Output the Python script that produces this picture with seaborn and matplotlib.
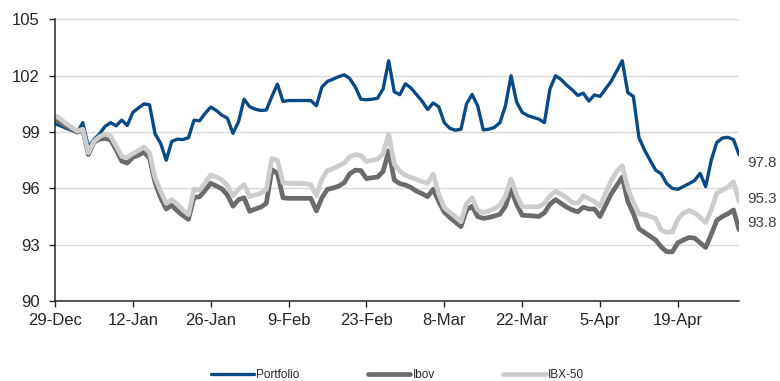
import pandas as pd
import numpy as np
import matplotlib
matplotlib.use("Agg")
import matplotlib.pyplot as plt
import matplotlib.dates as mdates
import seaborn as sns

# ---------------- data ----------------
dates = pd.date_range("2015-12-29", "2016-04-30", freq="D")

portfolio = [
    99.45, 99.33, 99.20, 99.09, 98.97, 99.50, 98.20, 98.60, 98.90, 99.30,
    99.50, 99.33, 99.64, 99.35, 100.05, 100.28, 100.50, 100.45, 98.90, 98.40,
    97.50, 98.50, 98.62, 98.60, 98.70, 99.63, 99.60, 100.00, 100.33, 100.15,
    99.90, 99.74, 98.93, 99.55, 100.75, 100.35, 100.22, 100.15, 100.17, 100.90,
    101.55, 100.63, 100.68, 100.68, 100.68, 100.68, 100.68, 100.40, 101.40, 101.70,
    101.82, 101.95, 102.05, 101.85, 101.40, 100.75, 100.72, 100.75, 100.80, 101.30,
    102.80, 101.15, 100.99, 101.57, 101.35, 101.00, 100.65, 100.20, 100.55, 100.35,
    99.50, 99.20, 99.10, 99.15, 100.50, 101.00, 100.40, 99.12, 99.15, 99.25,
    99.50, 100.40, 102.00, 100.60, 100.05, 99.88, 99.78, 99.69, 99.50, 101.30,
    102.00, 101.80, 101.50, 101.25, 100.95, 101.07, 100.65, 100.98, 100.90, 101.30,
    101.70, 102.25, 102.80, 101.10, 100.90, 98.70, 98.05, 97.50, 96.97, 96.78,
    96.25, 96.00, 95.95, 96.10, 96.25, 96.42, 96.80, 96.09, 97.50, 98.45,
    98.68, 98.72, 98.60, 97.80,
]

ibov = [
    99.70, 99.50, 99.33, 99.15, 99.00, 99.10, 97.80, 98.45, 98.63, 98.66,
    98.58, 98.05, 97.45, 97.35, 97.65, 97.77, 97.92, 97.60, 96.30, 95.50,
    94.90, 95.10, 94.80, 94.55, 94.35, 95.52, 95.55, 95.90, 96.27, 96.13,
    95.98, 95.65, 95.05, 95.40, 95.50, 94.78, 94.90, 95.00, 95.20, 97.00,
    96.80, 95.50, 95.47, 95.47, 95.47, 95.47, 95.47, 94.80, 95.50, 95.95,
    96.02, 96.12, 96.30, 96.78, 96.97, 96.95, 96.52, 96.57, 96.60, 96.90,
    98.00, 96.45, 96.25, 96.18, 96.05, 95.85, 95.72, 95.56, 95.95, 95.30,
    94.73, 94.45, 94.20, 93.96, 94.85, 95.05, 94.50, 94.40, 94.45, 94.53,
    94.62, 95.05, 95.95, 95.15, 94.57, 94.55, 94.53, 94.50, 94.70, 95.15,
    95.40, 95.20, 95.00, 94.85, 94.75, 95.00, 94.90, 94.90, 94.50, 95.10,
    95.70, 96.15, 96.60, 95.30, 94.65, 93.85, 93.65, 93.45, 93.25, 92.88,
    92.62, 92.62, 93.10, 93.25, 93.38, 93.35, 93.10, 92.85, 93.55, 94.30,
    94.50, 94.65, 94.85, 93.80,
]

ibx50 = [
    99.88, 99.70, 99.45, 99.25, 99.05, 99.15, 97.90, 98.50, 98.75, 98.90,
    98.78, 98.25, 97.70, 97.65, 97.85, 98.02, 98.20, 97.90, 96.55, 95.85,
    95.20, 95.40, 95.15, 94.85, 94.60, 95.95, 95.90, 96.30, 96.72, 96.60,
    96.45, 96.15, 95.60, 95.95, 96.20, 95.56, 95.65, 95.74, 95.95, 97.60,
    97.50, 96.30, 96.27, 96.27, 96.27, 96.25, 96.20, 95.60, 96.50, 96.95,
    97.05, 97.20, 97.35, 97.68, 97.80, 97.75, 97.43, 97.50, 97.55, 97.85,
    98.90, 97.30, 96.90, 96.70, 96.58, 96.48, 96.37, 96.27, 96.75, 95.70,
    94.97, 94.72, 94.48, 94.22, 95.20, 95.50, 94.85, 94.70, 94.80, 94.92,
    95.10, 95.60, 96.50, 95.65, 95.02, 95.02, 95.02, 95.02, 95.20, 95.60,
    95.85, 95.70, 95.50, 95.25, 95.20, 95.60, 95.45, 95.30, 95.05, 95.75,
    96.40, 96.90, 97.20, 96.00, 95.27, 94.65, 94.60, 94.50, 94.40, 93.78,
    93.66, 93.68, 94.35, 94.68, 94.82, 94.70, 94.45, 94.18, 94.85, 95.75,
    95.90, 96.07, 96.35, 95.30,
]

series_names = ["Portfolio", "Ibov", "IBX-50"]
y_ticks = [90, 93, 96, 99, 102, 105]
x_tick_dates = pd.date_range("2015-12-29", "2016-04-19", freq="14D")

# ---------------- style ----------------
sns.set_theme(style="white")
plt.rcParams["font.family"] = ["Liberation Sans", "DejaVu Sans"]

colors = {"Portfolio": "#0a4a84", "Ibov": "#6b6b6b", "IBX-50": "#cdcdcd"}
widths = {"Portfolio": 2.4, "Ibov": 3.4, "IBX-50": 3.4}

fig = plt.figure(figsize=(7.8, 3.81), dpi=100)
ax = fig.add_axes([0.0705, 0.21, 0.877, 0.739])

values = {"Portfolio": portfolio, "Ibov": ibov, "IBX-50": ibx50}
for name in series_names:
    sns.lineplot(x=dates, y=values[name], ax=ax, color=colors[name],
                 linewidth=widths[name], label=name,
                 solid_joinstyle="round", solid_capstyle="round")

ax.set_ylim(90, 105)
ax.set_yticks(y_ticks)
ax.set_xlim(dates[0], dates[-1])
ax.set_xticks(x_tick_dates)
ax.xaxis.set_major_formatter(mdates.DateFormatter("%-d-%b"))

ax.yaxis.grid(True, color="#d9d9d9", linewidth=1.0)
ax.xaxis.grid(False)
ax.set_axisbelow(True)
for s in ["top", "right"]:
    ax.spines[s].set_visible(False)
for s in ["left", "bottom"]:
    ax.spines[s].set_color("#262626")
    ax.spines[s].set_linewidth(1.1)

ax.tick_params(axis="both", which="major", direction="out", length=4,
               width=1, color="#262626", labelsize=12, labelcolor="#262626",
               bottom=True, left=True)
ax.tick_params(axis="y", pad=7)
ax.tick_params(axis="x", pad=5)
ax.set_xlabel("")
ax.set_ylabel("")

# end labels
offsets = {"Portfolio": -6, "IBX-50": 1.7, "Ibov": 4.8}
for name in series_names:
    v = values[name][-1]
    ax.annotate(f"{v:.1f}", xy=(dates[-1], v), xytext=(5.6, offsets[name]),
                textcoords="offset points", va="center", ha="left",
                fontsize=11, color="#404040", annotation_clip=False)

# legend at bottom
handles, labels = ax.get_legend_handles_labels()
ax.get_legend().remove()
fig.legend(handles, labels, loc="center", bbox_to_anchor=(0.51, 0.016),
           ncol=3, frameon=False, fontsize=8.5, handlelength=3.6,
           handletextpad=0.2, columnspacing=5.8, borderaxespad=0)

fig.savefig("out.png", dpi=100)
